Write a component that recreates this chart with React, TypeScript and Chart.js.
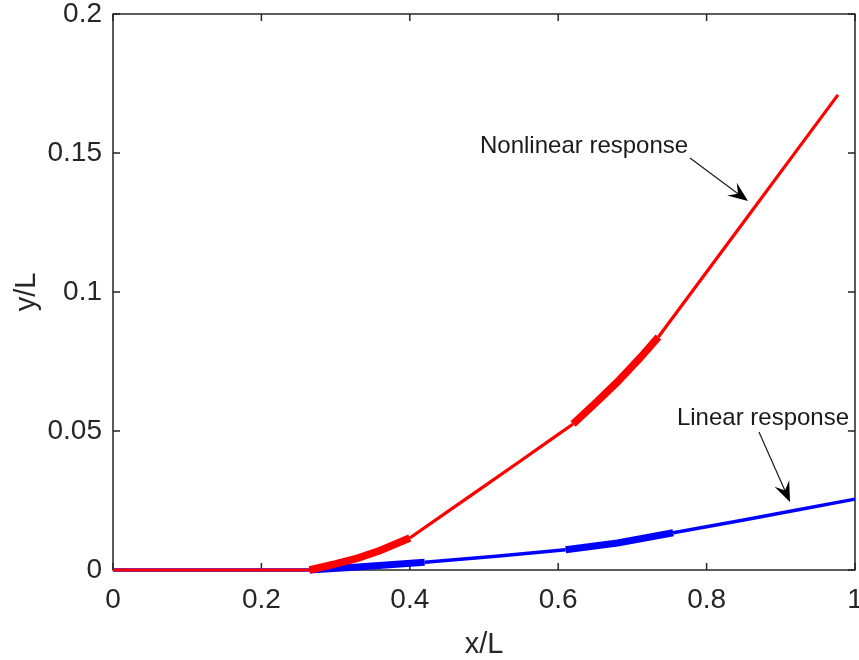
import React, { useEffect, useRef } from "react";
import { Chart, registerables } from "chart.js";

Chart.register(...registerables);

// Tip deflection along the span, normalised by length L
const NONLINEAR_X = [0, 0.265, 0.3, 0.33, 0.36, 0.4, 0.45, 0.5, 0.55, 0.59, 0.62, 0.65, 0.68, 0.71, 0.735, 0.78, 0.85, 0.92, 0.977];
const NONLINEAR_Y = [0, 0, 0.0022, 0.0043, 0.007, 0.0115, 0.0208, 0.0301, 0.0394, 0.0469, 0.0525, 0.06, 0.0677, 0.0762, 0.0838, 0.1, 0.1252, 0.1504, 0.1709];

const LINEAR_X = [0, 0.265, 0.33, 0.42, 0.52, 0.61, 0.68, 0.755, 0.85, 0.92, 1.0];
const LINEAR_Y = [0, 0, 0.0011, 0.0028, 0.005, 0.0073, 0.0097, 0.0134, 0.018, 0.0215, 0.0255];

const X_TICKS = [0, 0.2, 0.4, 0.6, 0.8, 1];
const X_TICK_LABELS = ["0", "0.2", "0.4", "0.6", "0.8", "1"];
const Y_TICKS = [0, 0.05, 0.1, 0.15, 0.2];
const Y_TICK_LABELS = ["0", "0.05", "0.1", "0.15", "0.2"];

// Stretches of the curves drawn with a heavier stroke
const NONLINEAR_THICK = [[0.265, 0.4], [0.62, 0.735]];
const LINEAR_THICK = [[0.265, 0.42], [0.61, 0.755]];

const AXIS_COLOR = "#262626";
const FONT = "'Liberation Sans', Arial, Helvetica, sans-serif";

type Note = { text: string; tx: number; ty: number; ax0: number; ay0: number; ax1: number; ay1: number };
const NOTES: Note[] = [
  { text: "Nonlinear response", tx: 0.4946, ty: 0.15, ax0: 0.7776, ay0: 0.1482, ax1: 0.8558, ay1: 0.1327 },
  { text: "Linear response", tx: 0.76, ty: 0.0522, ax0: 0.8706, ay0: 0.0496, ax1: 0.9124, ay1: 0.0245 },
];

const toPoints = (xs: number[], ys: number[]) => xs.map((x, i) => ({ x, y: ys[i] }));

const thickWidth = (ranges: number[][], thin: number, thick: number) => (ctx: any) => {
  const a = ctx.p0.parsed.x;
  const b = ctx.p1.parsed.x;
  return ranges.some(([lo, hi]) => a >= lo - 1e-9 && b <= hi + 1e-9) ? thick : thin;
};

// Box with inward ticks on all four sides, drawn beneath the data
const frame = {
  id: "frame",
  beforeDatasetsDraw(chart: any) {
    const { ctx, chartArea: a, scales } = chart;
    const len = 7;
    ctx.save();
    ctx.strokeStyle = AXIS_COLOR;
    ctx.lineWidth = 1.5;
    ctx.strokeRect(a.left, a.top, a.right - a.left, a.bottom - a.top);
    ctx.beginPath();
    X_TICKS.forEach((v) => {
      const px = scales.x.getPixelForValue(v);
      ctx.moveTo(px, a.bottom);
      ctx.lineTo(px, a.bottom - len);
      ctx.moveTo(px, a.top);
      ctx.lineTo(px, a.top + len);
    });
    Y_TICKS.forEach((v) => {
      const py = scales.y.getPixelForValue(v);
      ctx.moveTo(a.left, py);
      ctx.lineTo(a.left + len, py);
      ctx.moveTo(a.right, py);
      ctx.lineTo(a.right - len, py);
    });
    ctx.stroke();
    ctx.restore();
  },
};

// Text labels with arrows pointing at each curve
const notes = {
  id: "notes",
  afterDatasetsDraw(chart: any) {
    const { ctx, scales } = chart;
    const X = (v: number) => scales.x.getPixelForValue(v);
    const Y = (v: number) => scales.y.getPixelForValue(v);
    ctx.save();
    NOTES.forEach((n) => {
      ctx.fillStyle = "#1a1a1a";
      ctx.font = `24px ${FONT}`;
      ctx.textAlign = "left";
      ctx.textBaseline = "alphabetic";
      ctx.fillText(n.text, X(n.tx), Y(n.ty));

      const x0 = X(n.ax0), y0 = Y(n.ay0), x1 = X(n.ax1), y1 = Y(n.ay1);
      const dx = x1 - x0, dy = y1 - y0;
      const d = Math.hypot(dx, dy);
      const ux = dx / d, uy = dy / d;
      const headLen = 20, halfW = 8;
      ctx.strokeStyle = "#1a1a1a";
      ctx.lineWidth = 1.2;
      ctx.beginPath();
      ctx.moveTo(x0, y0);
      ctx.lineTo(x1 - ux * headLen * 0.6, y1 - uy * headLen * 0.6);
      ctx.stroke();
      const bx = x1 - ux * headLen, by = y1 - uy * headLen;
      const nx = x1 - ux * headLen * 0.62, ny = y1 - uy * headLen * 0.62;
      ctx.fillStyle = "#000";
      ctx.beginPath();
      ctx.moveTo(x1, y1);
      ctx.lineTo(bx - uy * halfW, by + ux * halfW);
      ctx.lineTo(nx, ny);
      ctx.lineTo(bx + uy * halfW, by - ux * halfW);
      ctx.closePath();
      ctx.fill();
    });
    ctx.restore();
  },
};

export default function App() {
  const ref = useRef<HTMLCanvasElement | null>(null);

  useEffect(() => {
    if (!ref.current) return;
    const chart = new Chart(ref.current, {
      type: "line",
      data: {
        datasets: [
          {
            label: "Nonlinear response",
            data: toPoints(NONLINEAR_X, NONLINEAR_Y),
            borderColor: "#ff0000",
            borderWidth: 3.2,
            pointRadius: 0,
            tension: 0,
            clip: false as any,
            segment: { borderWidth: thickWidth(NONLINEAR_THICK, 3.2, 7.5) },
          },
          {
            label: "Linear response",
            data: toPoints(LINEAR_X, LINEAR_Y),
            borderColor: "#0000ff",
            borderWidth: 3.5,
            pointRadius: 0,
            tension: 0,
            clip: false as any,
            segment: { borderWidth: thickWidth(LINEAR_THICK, 3.5, 7) },
          },
        ],
      },
      options: {
        animation: false,
        responsive: false,
        parsing: false as any,
        layout: { padding: { top: 14, right: 4, left: 0, bottom: 0 } },
        plugins: { legend: { display: false }, tooltip: { enabled: false } },
        scales: {
          x: {
            type: "linear",
            min: 0,
            max: 1,
            afterBuildTicks: (s: any) => {
              s.ticks = X_TICKS.map((value) => ({ value }));
            },
            afterFit: (s: any) => {
              s.height = 90;
              s.paddingLeft = 0;
              s.paddingRight = 0;
            },
            grid: { display: false, drawTicks: false },
            border: { display: false },
            ticks: {
              padding: 13,
              color: AXIS_COLOR,
              font: { family: FONT, size: 28 },
              maxRotation: 0,
              callback: (_v: any, i: number) => X_TICK_LABELS[i],
            },
            title: {
              display: true,
              text: "x/L",
              color: AXIS_COLOR,
              font: { family: FONT, size: 29, lineHeight: 1 },
              padding: { top: 0, bottom: 1 },
            },
          },
          y: {
            type: "linear",
            min: 0,
            max: 0.2,
            afterBuildTicks: (s: any) => {
              s.ticks = Y_TICKS.map((value) => ({ value }));
            },
            afterFit: (s: any) => {
              s.width = 113;
              s.paddingTop = 0;
              s.paddingBottom = 0;
            },
            grid: { display: false, drawTicks: false },
            border: { display: false },
            ticks: {
              padding: 11,
              color: AXIS_COLOR,
              font: { family: FONT, size: 28 },
              callback: (_v: any, i: number) => Y_TICK_LABELS[i],
            },
            title: {
              display: true,
              text: "y/L",
              color: AXIS_COLOR,
              font: { family: FONT, size: 29, lineHeight: 1 },
              padding: { top: 12, bottom: 0 },
            },
          },
        },
      },
      plugins: [frame, notes],
    });
    return () => chart.destroy();
  }, []);

  return (
    <div style={{ position: "fixed", left: 0, top: 0, width: 859, height: 660, background: "#fff" }}>
      <canvas ref={ref} width={859} height={660} style={{ display: "block" }} />
    </div>
  );
}
